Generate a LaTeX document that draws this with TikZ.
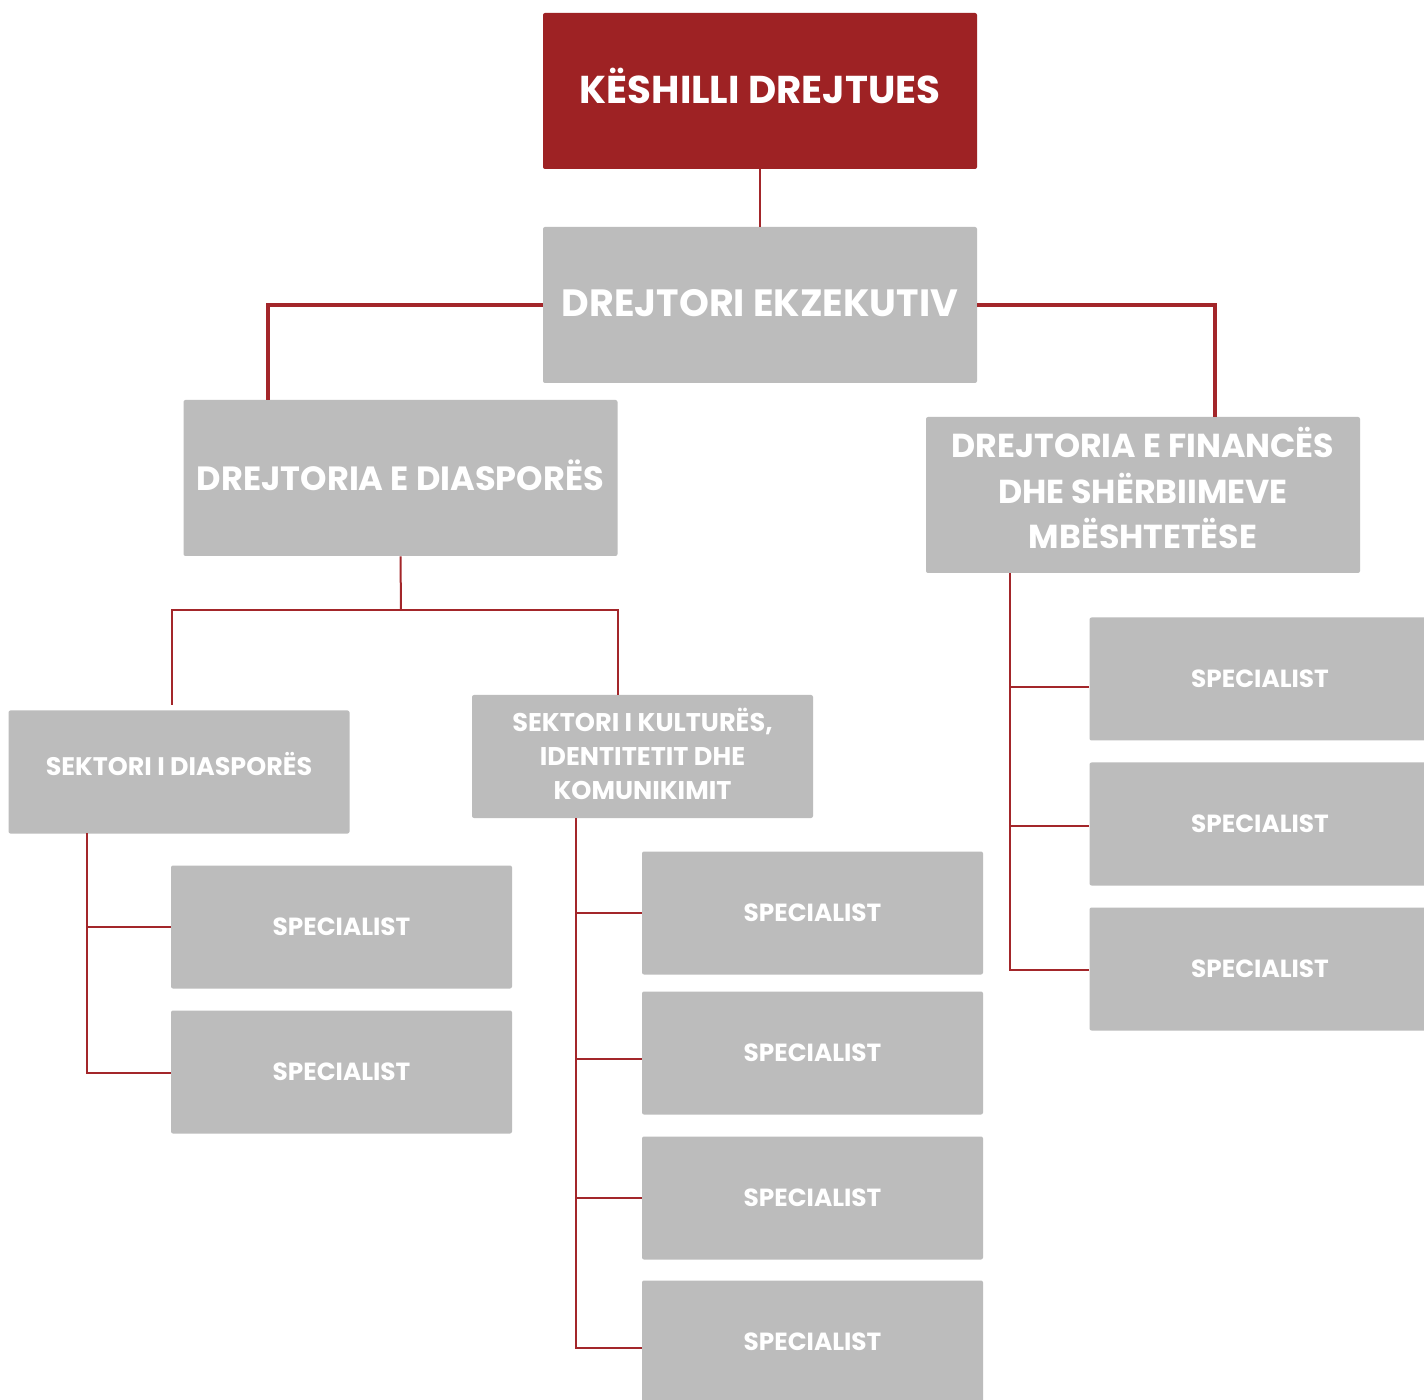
\documentclass[tikz,border=0pt]{standalone}
\usepackage{fontspec}
\setmainfont{Poppins}[BoldFont=Poppins Bold]
\usetikzlibrary{calc}
\definecolor{boardred}{HTML}{9E2224}
\definecolor{linered}{HTML}{A3262A}
\definecolor{boxgray}{HTML}{BCBCBC}
\tikzset{
  box/.style={fill=boxgray, rounded corners=1pt, inner sep=0pt, text=white, align=center, font=\bfseries},
  bigbox/.style={box, minimum width=217pt, minimum height=78pt},
  secbox/.style={box, minimum width=170.5pt, minimum height=61.5pt},
  specbox/.style={box, minimum width=170.5pt, minimum height=61.5pt, font=\bfseries\fontsize{12.4}{14}\selectfont},
  boxtext/.style={inner sep=0pt, text=white, align=center},
  conn/.style={draw=linered, line width=1pt},
  thickconn/.style={draw=linered, line width=1.6pt},
}
\begin{document}
\begin{tikzpicture}[x=0.5pt,y=-0.5pt]
\clip (0,0) rectangle (1424,1400);
\fill[white] (0,0) rectangle (1424,1400);

% main boxes
\node[bigbox, fill=boardred] (board) at (760,91) {};
\node[boxtext, font=\bfseries\fontsize{19.4}{22}\selectfont] (boardtext) at (760,86) {KËSHILLI DREJTUES};
\node[bigbox] (exec) at (760,305) {};
\node[boxtext, font=\bfseries\fontsize{19}{22}\selectfont] (exectext) at (760,303) {DREJTORI EKZEKUTIV};
\node[bigbox] (dias) at (400.5,478) {};
\node[boxtext, font=\bfseries\fontsize{16.8}{20}\selectfont] (diastext) at (400.5,475.5) {DREJTORIA E DIASPORËS};
\node[bigbox] (fin) at (1143,495) {};
\node[boxtext, font=\bfseries\fontsize{16.6}{22.7}\selectfont] (fintext) at (1143,488) {DREJTORIA E FINANCËS\\DHE SHËRBIIMEVE\\MBËSHTETËSE};

% sectors
\node[secbox] (sdias) at (179,772) {};
\node[boxtext, font=\bfseries\fontsize{12.7}{15}\selectfont] (sdiastext) at (179,764) {SEKTORI I DIASPORËS};
\node[secbox] (skult) at (642.5,756.5) {};
\node[boxtext, font=\bfseries\fontsize{12.8}{17}\selectfont] (skulttext) at (642.5,753.5) {SEKTORI I KULTURËS,\\IDENTITETIT DHE\\KOMUNIKIMIT};

% specialists
\node[specbox] (ls1) at (341.5,927) {SPECIALIST};
\node[specbox] (ls2) at (341.5,1072) {SPECIALIST};
\node[specbox] (ms1) at (812.5,913) {SPECIALIST};
\node[specbox] (ms2) at (812.5,1053) {SPECIALIST};
\node[specbox] (ms3) at (812.5,1198) {SPECIALIST};
\node[specbox] (ms4) at (812.5,1342) {SPECIALIST};
\node[specbox] (rs1) at (1260,679) {SPECIALIST};
\node[specbox] (rs2) at (1260,824) {SPECIALIST};
\node[specbox] (rs3) at (1260,969) {SPECIALIST};

% connector points
\coordinate (dtop) at (268,400);
\coordinate (ftop) at (1215,417);
\coordinate (bus) at (401,610);
\coordinate (sdtop) at (172,705);
\coordinate (sktop) at (618,695);
\coordinate (sdv) at (87,833);
\coordinate (skv) at (576,818);
\coordinate (fv) at (1010,573);

% connectors
\draw[conn] (board.south) -- (exec.north);
\draw[thickconn] (exec.west) -| (dtop);
\draw[thickconn] (exec.east) -| (ftop);
\draw[conn] (dias.south) -- (bus);
\draw[conn] (sdtop) |- (bus) -| (sktop);

\draw[conn] (sdv) |- ([yshift=-0.5pt]ls2.west);
\draw[conn] (sdv |- ls1.west) -- (ls1.west);

\draw[conn] (skv) |- ([yshift=-3pt]ms4.west);
\draw[conn] (skv |- ms1.west) -- (ms1.west);
\draw[conn] ($(skv |- ms2.west)+(0,6)$) -- ([yshift=-3pt]ms2.west);
\draw[conn] (skv |- ms3.west) -- (ms3.west);

\draw[conn] (fv) |- ([yshift=-0.5pt]rs3.west);
\draw[conn] ($(fv |- rs1.west)+(0,8)$) -- ([yshift=-4pt]rs1.west);
\draw[conn] ($(fv |- rs2.west)+(0,2)$) -- ([yshift=-1pt]rs2.west);
\end{tikzpicture}
\end{document}
